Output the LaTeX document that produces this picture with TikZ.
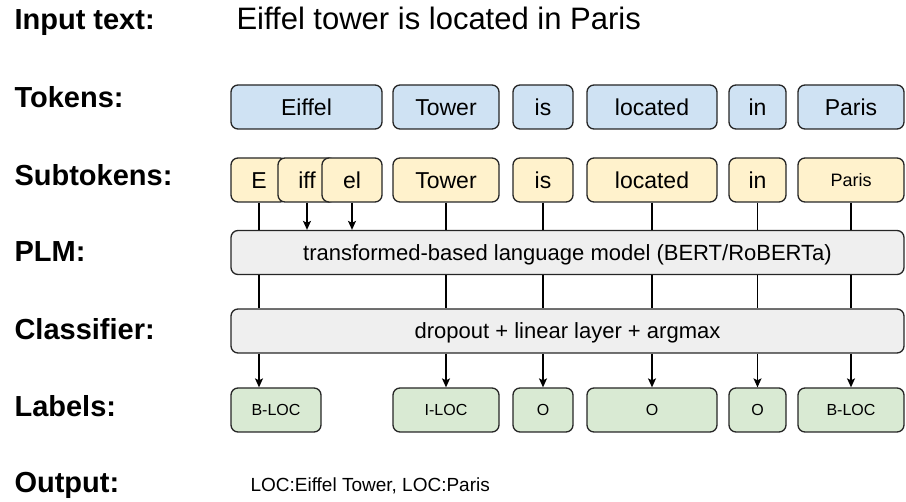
\documentclass[tikz,border=0pt]{standalone}
\usepackage{fontspec}
\setmainfont{Liberation Sans}
\usepackage{xcolor}
\usetikzlibrary{arrows.meta}

\definecolor{tokblue}{HTML}{CFE2F3}
\definecolor{subyellow}{HTML}{FFF2CC}
\definecolor{plmgray}{HTML}{EFEFEF}
\definecolor{lblgreen}{HTML}{D9EAD3}

\tikzset{
  box/.style={draw=black!85, line width=1.3pt, rounded corners=7pt,
    minimum height=44pt, inner sep=0pt, text height=16.5pt, text depth=0pt,
    font=\fontsize{23}{27}\selectfont},
  tok/.style={box, fill=tokblue},
  subtok/.style={box, fill=subyellow},
  model/.style={box, fill=plmgray, minimum width=673pt, text height=15.8pt,
    font=\fontsize{22}{26}\selectfont},
  lbl/.style={box, fill=lblgreen, text height=11.5pt, font=\fontsize{16}{19}\selectfont},
  rowname/.style={anchor=base west, font=\fontsize{29}{34}\selectfont\bfseries},
  plain/.style={anchor=base west},
  link/.style={line width=1.3pt},
  feed/.style={line width=1.3pt, -{Stealth[length=9pt,width=8pt,inset=2pt]}}
}

\begin{document}
\begin{tikzpicture}[x=1pt,y=-1pt]
  \useasboundingbox (0,0) rectangle (906,502);

  % row names
  \node[rowname] (rin) at (11,30) {Input text:};
  \node[rowname] (rtok) at (11,108) {Tokens:};
  \node[rowname] (rsub) at (11,186) {Subtokens:};
  \node[rowname] (rplm) at (11,262) {PLM:};
  \node[rowname] (rcls) at (11,340) {Classifier:};
  \node[rowname] (rlbl) at (11,417) {Labels:};
  \node[rowname] (rout) at (11,493) {Output:};

  \node[plain, font=\fontsize{31}{36}\selectfont] (intext) at (233,30) {Eiffel tower is located in Paris};

  % tokens
  \node[tok, minimum width=151pt] (t1) at (306.5,107) {Eiffel};
  \node[tok, minimum width=106pt] (t2) at (446,107) {Tower};
  \node[tok, minimum width=60pt] (t3) at (543,107) {is};
  \node[tok, minimum width=130pt] (t4) at (652,107) {located};
  \node[tok, minimum width=57pt] (t5) at (757.5,107) {in};
  \node[tok, minimum width=106pt] (t6) at (851,107) {Paris};

  % subtokens
  \node[subtok, minimum width=56pt] (s1) at (259,180) {E};
  \node[subtok, minimum width=58pt] (s2) at (307,180) {iff};
  \node[subtok, minimum width=60pt] (s3) at (352,180) {el};
  \node[subtok, minimum width=106pt] (s4) at (446,180) {Tower};
  \node[subtok, minimum width=60pt] (s5) at (543,180) {is};
  \node[subtok, minimum width=130pt] (s6) at (652,180) {located};
  \node[subtok, minimum width=57pt] (s7) at (757.5,180) {in};
  \node[subtok, minimum width=106pt, text height=12.9pt, font=\fontsize{18}{21}\selectfont] (s8) at (851,180) {Paris};

  % model and classifier
  \node[model] (plm) at (567.5,252.5) {transformed-based language model (BERT/RoBERTa)};
  \node[model] (cls) at (567.5,331) {dropout + linear layer + argmax};

  % labels
  \node[lbl, minimum width=90pt] (l1) at (276,410) {B-LOC};
  \node[lbl, minimum width=106pt] (l2) at (446,410) {I-LOC};
  \node[lbl, minimum width=60pt] (l3) at (543,410) {O};
  \node[lbl, minimum width=130pt] (l4) at (652,410) {O};
  \node[lbl, minimum width=57pt] (l5) at (757.5,410) {O};
  \node[lbl, minimum width=106pt] (l6) at (851,410) {B-LOC};

  \node[plain, font=\fontsize{19}{23}\selectfont] (outtext) at (247,492) {LOC:Eiffel Tower, LOC:Paris};

  % connectors
  \foreach \s in {s1,s4,s5,s6,s7,s8}
    \draw[link] (\s.south) -- (\s.south |- plm.north);
  \foreach \s in {s2,s3}
    \draw[feed] (\s.south) -- (\s.south |- plm.north);
  \foreach \s in {s1,s4,s5,s6,s7,s8}
    \draw[link] (\s.south |- plm.south) -- (\s.south |- cls.north);
  \foreach \s/\l in {s1/l1,s4/l2,s5/l3,s6/l4,s7/l5,s8/l6}
    \draw[feed] (\s.south |- cls.south) -- (\s.south |- \l.north);
\end{tikzpicture}
\end{document}
